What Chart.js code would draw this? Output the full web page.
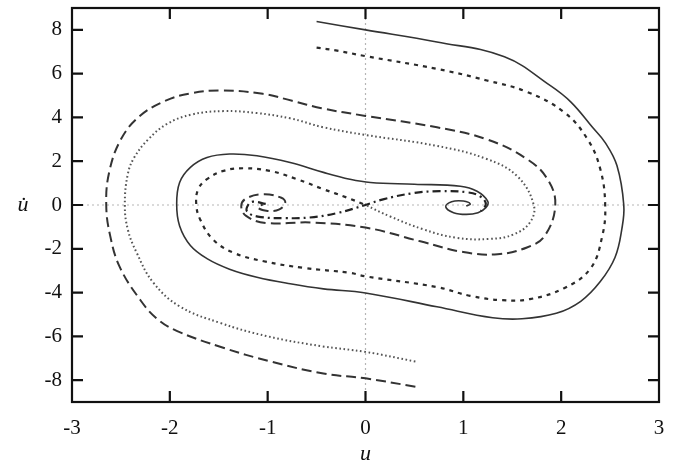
<!DOCTYPE html>
<html>
<head>
<meta charset="utf-8">
<title>Phase portrait</title>
<script src="https://cdn.jsdelivr.net/npm/chart.js@4.4.1/dist/chart.umd.min.js"></script>
<style>
  html, body { margin: 0; padding: 0; background: #fff; }
</style>
</head>
<body>
<canvas id="phase" width="677" height="467"></canvas>
<script>
const uTicks = [-3, -2, -1, 0, 1, 2, 3];
const vTicks = [-8, -6, -4, -2, 0, 2, 4, 6, 8];

// orbit from the top, ends in the right well
const solidU = [-0.5, 0, 0.73, 1.42, 1.89, 2.1, 2.32, 2.45, 2.57, 2.64, 2.62, 2.55, 2.4, 2.2, 1.95, 1.6, 1.3, 0.73, 0, -0.43, -0.77, -1.11, -1.39, -1.62, -1.79, -1.9, -1.93, -1.9, -1.79, -1.62, -1.39, -1.11, -0.77, -0.43, -0.16, 0.05, 0.5, 0.97, 1.14, 1.25, 1.23, 1.15, 1.03, 0.9, 0.82, 0.88, 1.0, 1.07, 1.03];
const solidV = [8.38, 8.0, 7.45, 6.77, 5.45, 4.7, 3.55, 2.85, 1.8, 0, -1.1, -2.4, -3.5, -4.4, -4.95, -5.2, -5.15, -4.65, -4.02, -3.83, -3.6, -3.3, -2.93, -2.45, -1.85, -0.96, 0.03, 1.03, 1.72, 2.17, 2.33, 2.25, 1.94, 1.49, 1.18, 1.03, 0.95, 0.86, 0.63, 0.17, -0.12, -0.35, -0.43, -0.35, -0.08, 0.15, 0.18, 0.05, -0.05];

// stable manifold, upper branch
const shortU = [-0.5, -0.29, 0, 0.73, 1.24, 1.65, 2.03, 2.27, 2.4, 2.45, 2.42, 2.3, 2.03, 1.68, 1.4, 1.07, 0.73, 0, -0.16, -0.64, -1.04, -1.35, -1.56, -1.69, -1.73, -1.71, -1.62, -1.45, -1.25, -0.98, -0.7, -0.43, -0.19, 0];
const shortV = [7.19, 7.05, 6.8, 6.22, 5.69, 5.17, 4.24, 3.0, 1.64, 0, -1.42, -2.9, -3.8, -4.3, -4.35, -4.15, -3.75, -3.26, -3.1, -2.87, -2.57, -2.18, -1.57, -0.66, 0.03, 0.72, 1.18, 1.56, 1.68, 1.56, 1.18, 0.72, 0.34, 0];

// stable manifold, lower branch
const dotU = [0.51, 0, -0.45, -1.0, -1.49, -1.9, -2.17, -2.34, -2.43, -2.46, -2.43, -2.36, -2.22, -2.03, -1.78, -1.45, -1.11, -0.77, -0.43, 0, 0.73, 1.24, 1.55, 1.72, 1.68, 1.51, 1.27, 0.93, 0.59, 0.25, 0];
const dotV = [-7.15, -6.71, -6.45, -6.0, -5.38, -4.63, -3.54, -2.17, -1.11, 0, 1.4, 2.2, 3.0, 3.7, 4.13, 4.29, 4.2, 3.96, 3.55, 3.2, 2.7, 2.1, 1.32, 0, -0.8, -1.35, -1.55, -1.5, -1.11, -0.52, 0];

// orbit from the bottom, ends in the left well
const longU = [0.51, 0, -0.43, -0.97, -1.47, -1.93, -2.13, -2.3, -2.51, -2.61, -2.65, -2.62, -2.5, -2.31, -2.05, -1.79, -1.48, -1.05, -0.75, -0.45, 0, 0.73, 1.24, 1.65, 1.86, 1.94, 1.83, 1.65, 1.35, 1.0, 0.56, 0, -0.55, -1.02, -1.22, -1.27, -1.22, -1.04, -0.86, -0.82, -0.88, -1.0, -1.1, -1.05];
const longV = [-8.3, -7.92, -7.7, -7.15, -6.5, -5.75, -5.2, -4.35, -2.85, -1.4, 0, 1.5, 3.0, 4.05, 4.75, 5.1, 5.23, 5.08, 4.76, 4.42, 4.07, 3.55, 3.0, 2.1, 1.18, 0, -1.42, -1.94, -2.25, -2.15, -1.66, -1.03, -0.8, -0.82, -0.5, -0.05, 0.3, 0.49, 0.33, 0.1, -0.2, -0.27, -0.12, 0.03];

// unstable manifold, both branches through the saddle
const unstU = [-1.02, -1.15, -1.2, -1.21, -1.1, -0.82, -0.57, -0.3, 0, 0.18, 0.5, 0.76, 1.04, 1.17, 1.23, 1.18];
const unstV = [0.05, 0.15, 0.0, -0.3, -0.53, -0.6, -0.57, -0.38, 0, 0.26, 0.55, 0.63, 0.58, 0.4, 0.05, -0.28];

const serif = '"Liberation Serif", "DejaVu Serif", serif';

function curve(us, vs, color, width, dash) {
    return {
        data: us.map((u, i) => ({ x: u, y: vs[i] })),
        showLine: true,
        borderColor: color,
        borderWidth: width,
        borderDash: dash,
        borderCapStyle: 'butt',
        pointRadius: 0,
        tension: 0.4,
        fill: false
    };
}

// gnuplot style frame: dotted zero axes, ticks pointing inwards on all sides
const framePlugin = {
    id: 'frame',
    beforeDatasetsDraw(chart) {
        const { ctx, chartArea: a, scales: { x, y } } = chart;
        const x0 = x.getPixelForValue(0);
        const y0 = y.getPixelForValue(0);
        ctx.save();
        ctx.strokeStyle = '#b5b5b5';
        ctx.lineWidth = 1.2;
        ctx.setLineDash([2, 3]);
        ctx.beginPath();
        ctx.moveTo(x0, a.top);
        ctx.lineTo(x0, a.bottom);
        ctx.moveTo(a.left, y0);
        ctx.lineTo(a.right, y0);
        ctx.stroke();
        ctx.restore();
    },
    afterDatasetsDraw(chart) {
        const { ctx, chartArea: a, scales: { x, y } } = chart;
        const len = 11;
        ctx.save();
        ctx.strokeStyle = '#111';
        ctx.lineWidth = 2.2;
        ctx.strokeRect(a.left, a.top, a.right - a.left, a.bottom - a.top);
        ctx.beginPath();
        uTicks.forEach(v => {
            if (v <= x.min || v >= x.max) return;
            const px = x.getPixelForValue(v);
            ctx.moveTo(px, a.bottom); ctx.lineTo(px, a.bottom - len);
            ctx.moveTo(px, a.top); ctx.lineTo(px, a.top + len);
        });
        vTicks.forEach(v => {
            if (v <= y.min || v >= y.max) return;
            const py = y.getPixelForValue(v);
            ctx.moveTo(a.left, py); ctx.lineTo(a.left + len, py);
            ctx.moveTo(a.right, py); ctx.lineTo(a.right - len, py);
        });
        ctx.stroke();

        // vertical axis name, kept upright
        ctx.fillStyle = '#111';
        ctx.font = 'italic 22px ' + serif;
        ctx.textAlign = 'center';
        ctx.textBaseline = 'middle';
        ctx.fillText('u\u0307', 23, y.getPixelForValue(0));
        ctx.restore();
    }
};

new Chart(document.getElementById('phase'), {
    type: 'scatter',
    data: {
        datasets: [
            curve(longU, longV, '#333', 2, [10, 5]),
            curve(dotU, dotV, '#555', 2, [1.6, 2.6]),
            curve(shortU, shortV, '#2a2a2a', 2.2, [4, 5]),
            curve(unstU, unstV, '#222', 2.2, [8, 4, 2, 4]),
            curve(solidU, solidV, '#333', 1.6, [])
        ]
    },
    options: {
        responsive: false,
        animation: false,
        events: [],
        layout: { padding: { top: 8, right: 18, left: 0, bottom: 0 } },
        plugins: {
            legend: { display: false },
            tooltip: { enabled: false }
        },
        scales: {
            x: {
                type: 'linear',
                min: -3,
                max: 3,
                afterBuildTicks: s => { s.ticks = uTicks.map(v => ({ value: v })); },
                afterFit: s => { s.height = 65; s.paddingLeft = 0; s.paddingRight = 0; },
                grid: { display: false, drawTicks: false },
                border: { display: false },
                ticks: {
                    color: '#111',
                    padding: 14,
                    maxRotation: 0,
                    font: { family: serif, size: 21 },
                    callback: v => String(v)
                },
                title: {
                    display: true,
                    text: 'u',
                    color: '#111',
                    padding: { top: 0, bottom: 0 },
                    font: { family: serif, size: 22, style: 'italic' }
                }
            },
            y: {
                type: 'linear',
                min: -9,
                max: 9,
                afterBuildTicks: s => { s.ticks = vTicks.map(v => ({ value: v })); },
                afterFit: s => { s.width = 72; s.paddingTop = 0; s.paddingBottom = 0; },
                grid: { display: false, drawTicks: false },
                border: { display: false },
                ticks: {
                    color: '#111',
                    padding: 10,
                    font: { family: serif, size: 21 },
                    callback: v => String(v)
                }
            }
        }
    },
    plugins: [framePlugin]
});
</script>
</body>
</html>
